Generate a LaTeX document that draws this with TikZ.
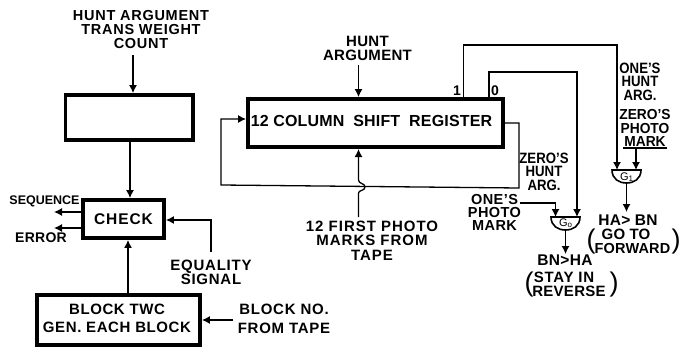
\documentclass[tikz,border=0pt]{standalone}
\usepackage{fontspec}
\setmainfont[UprightFont=* Bold]{Liberation Sans}
\newfontfamily\thinf{Liberation Sans}
\usetikzlibrary{arrows.meta}
\newcommand{\fsz}[2]{\fontsize{#1}{#2}\selectfont}
\newcommand{\spc}[1]{\addfontfeature{LetterSpace=#1}}
\newcommand{\nar}[1]{\addfontfeature{FakeStretch=#1}}
\tikzset{
 heavybox/.style={draw,line width=3.8pt,inner sep=0pt,fill=white},
 wire/.style={line width=1.2pt},
 sig/.style={line width=1.3pt,-{Latex[length=8pt,width=8pt]}},
 lab/.style={inner sep=0pt,align=center,font=\fsz{15}{13.6}\spc{2}},
 labr/.style={inner sep=0pt,align=center,font=\fsz{15}{13.5}\nar{.88}},
 labw/.style={inner sep=0pt,align=center,font=\fsz{15}{14}\spc{8}},
 paren/.style={inner sep=0pt,font=\thinf\fsz{27}{27}},
 gateshape/.style={line width=1.6pt,fill=white},
 gatetext/.style={inner sep=0pt,font=\thinf\fsz{11}{11}},
}
\begin{document}
\begin{tikzpicture}[x=1pt,y=-1pt]
\useasboundingbox[fill=white] (0,0) rectangle (681,348);
% boxes
\node[heavybox,minimum width=127.5pt,minimum height=45pt] (blank) at (129.25,117.5) {};
\node[heavybox,minimum width=81pt,minimum height=38pt] (check) at (123.5,219) {};
\node[heavybox,minimum width=163pt,minimum height=50pt] (blk) at (118.5,320) {};
\node[heavybox,minimum width=255pt,minimum height=48pt] (shift) at (375.5,123) {};
% box text
\node[labw,font=\fsz{15.5}{14}\spc{6}] (checkt) at (123.5,219) {CHECK};
\node[labw,font=\fsz{15}{18}\spc{4}] (blkt) at (117,318) {BLOCK TWC\\GEN. EACH BLOCK};
\node[lab,font=\fsz{16}{14}\spc{1}] (shiftt) at (371.5,121) {12 COLUMN\hspace{9pt}SHIFT\hspace{9pt}REGISTER};
% labels
\node[labw,font=\fsz{14.5}{14}\spc{5}] (huntA) at (141,30) {HUNT ARGUMENT\\TRANS WEIGHT\\COUNT};
\node[lab,font=\fsz{12.5}{13}\spc{0}] (seq) at (44.5,201) {SEQUENCE};
\node[lab,font=\fsz{14}{13}\spc{2}] (err) at (41,238) {ERROR};
\node[labw,font=\fsz{15}{14}\spc{5}] (eq) at (211,272) {EQUALITY\\SIGNAL};
\node[labw,font=\fsz{15}{19}\spc{5}] (blkno) at (284,318.5) {BLOCK NO.\\FROM TAPE};
\node[lab,font=\fsz{15}{14}\spc{2}] (huntB) at (367.5,48) {HUNT\\ARGUMENT};
\node[lab,font=\fsz{14}{13}] (one) at (457,91) {1};
\node[lab,font=\fsz{14}{13}] (zero) at (495,91) {0};
\node[labw,font=\fsz{15}{14.5}\spc{6.5}] (first) at (372,240.5) {12 FIRST PHOTO\\MARKS FROM\\TAPE};
\node[labr] (zh) at (544,171.5) {ZERO'S\\HUNT\\ARG.};
\node[lab,font=\fsz{14.5}{13}\spc{3}] (op) at (494.5,212.5) {ONE'S\\PHOTO\\MARK};
\node[labr] (oh) at (640,81.5) {ONE'S\\HUNT\\ARG.};
\node[labr,font=\fsz{14.5}{13.2}\nar{.95}] (zp) at (645,128) {ZERO'S\\PHOTO\\MARK};
\node[lab,font=\fsz{15.5}{14}\spc{2}] (bnha) at (565,260) {BN>HA};
\node[lab,font=\fsz{15}{14}\spc{5}] (stay) at (564,277) {STAY IN};
\node[lab,font=\fsz{15}{14}\spc{2}] (rev) at (569,291) {REVERSE};
\node[paren] (pl1) at (529,285) {(};
\node[paren] (pr1) at (614,285) {)};
\node[lab,font=\fsz{15.5}{14}\spc{2}] (habn) at (628,220) {HA> BN};
\node[lab,font=\fsz{15}{14}\spc{1}] (goto) at (626,234) {GO TO};
\node[lab,font=\fsz{14.5}{14}\spc{1}] (fwd) at (632.5,249) {FORWARD};
\node[paren] (pl2) at (591,242) {(};
\node[paren] (pr2) at (676,242) {)};
% gates
\coordinate (g0l) at (551,217); \coordinate (g0r) at (580,217);
\coordinate (g0b) at (565.5,230);
\coordinate (g1l) at (612,170); \coordinate (g1r) at (641,170);
\coordinate (g1b) at (626.5,183);
\draw[gateshape] (g0l) -- (g0r) .. controls (580,226) and (573,230) .. (g0b) .. controls (558,230) and (551,226) .. cycle;
\draw[gateshape] (g1l) -- (g1r) .. controls (641,179) and (634,183) .. (g1b) .. controls (619,183) and (612,179) .. cycle;
\node[gatetext] (g0t) at (565.5,223) {G\raisebox{-1pt}{\fsz{8}{8}o}};
\node[gatetext] (g1t) at (626.5,177) {G\raisebox{-1pt}{\fsz{8}{8}1}};
% free ends
\coordinate (a1) at (133,55);
\coordinate (a2) at (130,142);
\coordinate (a3) at (128,293);
\coordinate (b1) at (358.5,65);
\coordinate (b2) at (358.5,217);
\coordinate (c1) at (211,252);
\coordinate (c2) at (233,320);
\coordinate (s1) at (54,212);
\coordinate (s2) at (54,228);
\coordinate (p0) at (520,203);
\coordinate (u0) at (623,148);
\coordinate (u1) at (667,148);
% connectors left
\draw[sig] (a1) -- (a1 |- blank.north);
\draw[sig] (a2) -- (a2 |- check.north);
\draw[sig] (a3) -- (a3 |- check.south);
\draw[sig] (check.west |- s1) -- (s1);
\draw[sig] (check.west |- s2) -- (s2);
\draw[sig] (c1) -- (211,220) -- (check.east |- 0,220);
\draw[sig] (c2) -- (blk.east |- c2);
% register
\draw[sig] (b1) -- (b1 |- shift.north);
\draw[sig] (b2) -- (358.5,193) .. controls (358.5,190) and (365,191) .. (365,187) .. controls (365,183) and (358.5,184) .. (358.5,180) -- (358.5,149);
\draw[sig] (shift.east) -- (519,123) -- (519,188) -- (221,185) -- (221,119) -- (shift.west |- 0,119);
\draw[sig] (463.5,97) -- (463.5,45) -- (617,45) -- (617,170);
\draw[sig] (489,97) -- (489,72) -- (577,72) -- (577,217);
\draw[sig] (p0) -- (555.5,203) -- (555.5,217);
\draw[wire] (u0) -- (u1);
\draw[sig] (636,149) -- (636,170);
\draw[sig] (g0b) -- (565.5,254);
\draw[sig] (g1b) -- (626.5,212);
\end{tikzpicture}
\end{document}
